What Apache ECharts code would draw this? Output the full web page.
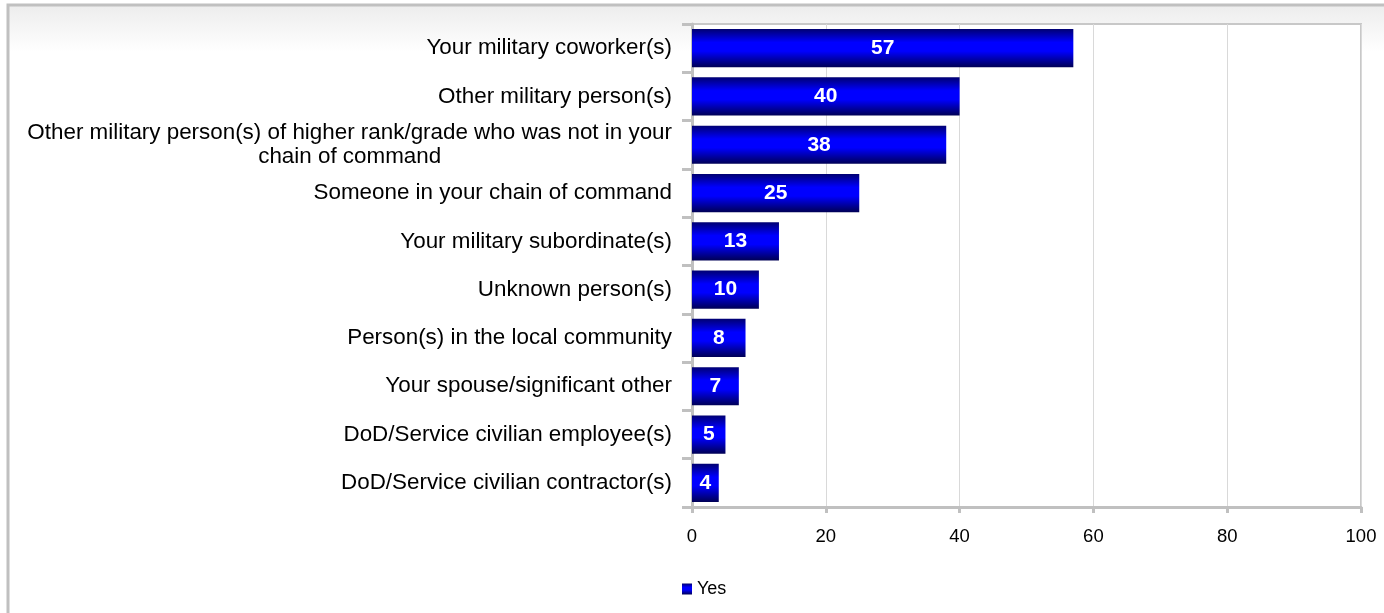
<!DOCTYPE html>
<html>
<head>
<meta charset="utf-8">
<script src="https://cdn.jsdelivr.net/npm/echarts@6/dist/echarts.min.js"></script>
<style>
html,body{margin:0;padding:0;background:#fff;}
#chart{width:1384px;height:613px;}
</style>
</head>
<body>
<div id="chart"></div>
<script>
const categories = [
  "Your military coworker(s)",
  "Other military person(s)",
  "Other military person(s) of higher rank/grade who was not in your\nchain of command",
  "Someone in your chain of command",
  "Your military subordinate(s)",
  "Unknown person(s)",
  "Person(s) in the local community",
  "Your spouse/significant other",
  "DoD/Service civilian employee(s)",
  "DoD/Service civilian contractor(s)"
];
const yesValues = [57, 40, 38, 25, 13, 10, 8, 7, 5, 4];
const seriesName = "Yes";
const xTicks = {min: 0, max: 100, interval: 20};

const FONT = 'Liberation Sans, Arial, sans-serif';
const chart = echarts.init(document.getElementById('chart'));
const barGradient = new echarts.graphic.LinearGradient(0, 0, 0, 1, [
  {offset: 0, color: '#000072'},
  {offset: 0.35, color: '#0000ff'},
  {offset: 0.58, color: '#0000ff'},
  {offset: 1, color: '#000055'}
]);
chart.setOption({
  animation: false,
  graphic: [{
    type: 'rect',
    z: -10,
    silent: true,
    shape: {x: 8, y: 5, width: 1500, height: 800},
    style: {
      fill: new echarts.graphic.LinearGradient(0, 0, 0, 1, [
        {offset: 0, color: '#ececec'},
        {offset: 0.06, color: '#ffffff'},
        {offset: 1, color: '#ffffff'}
      ]),
      stroke: '#c0c0c0',
      lineWidth: 3
    }
  }],
  grid: {
    left: 692, right: 23, top: 24, bottom: 106,
    show: true, backgroundColor: '#ffffff', borderColor: '#c8c8c8', borderWidth: 2
  },
  legend: {
    left: 677, top: 575,
    icon: 'rect', itemWidth: 10, itemHeight: 11, itemGap: 6,
    textStyle: {fontFamily: FONT, fontSize: 18, color: '#000'},
    data: [seriesName]
  },
  xAxis: {
    type: 'value',
    min: xTicks.min, max: xTicks.max, interval: xTicks.interval,
    axisLine: {show: true, lineStyle: {color: '#c0c0c0', width: 3}},
    axisTick: {show: true, length: 6, lineStyle: {color: '#c0c0c0', width: 3}},
    splitLine: {show: true, lineStyle: {color: '#d9d9d9', width: 1}},
    axisLabel: {margin: 20, fontFamily: FONT, fontSize: 18.5, color: '#000'}
  },
  yAxis: {
    type: 'category',
    inverse: true,
    data: categories,
    axisLine: {show: true, lineStyle: {color: '#c0c0c0', width: 3}},
    axisTick: {show: true, length: 10, lineStyle: {color: '#c0c0c0', width: 3}},
    axisLabel: {
      margin: 20,
      color: '#000',
      fontFamily: FONT,
      fontSize: 22.4,
      formatter: v => v.split('\n').map(l => '{c|' + l + '}').join('\n'),
      rich: {c: {align: 'center', fontSize: 22.4, lineHeight: 24, color: '#000', fontFamily: FONT}}
    }
  },
  series: [{
    name: seriesName,
    type: 'bar',
    data: yesValues,
    barCategoryGap: '21%',
    itemStyle: {color: barGradient},
    label: {
      show: true, position: 'inside', color: '#fff', fontWeight: 'bold',
      fontFamily: FONT, fontSize: 21
    }
  }]
});
</script>
</body>
</html>
